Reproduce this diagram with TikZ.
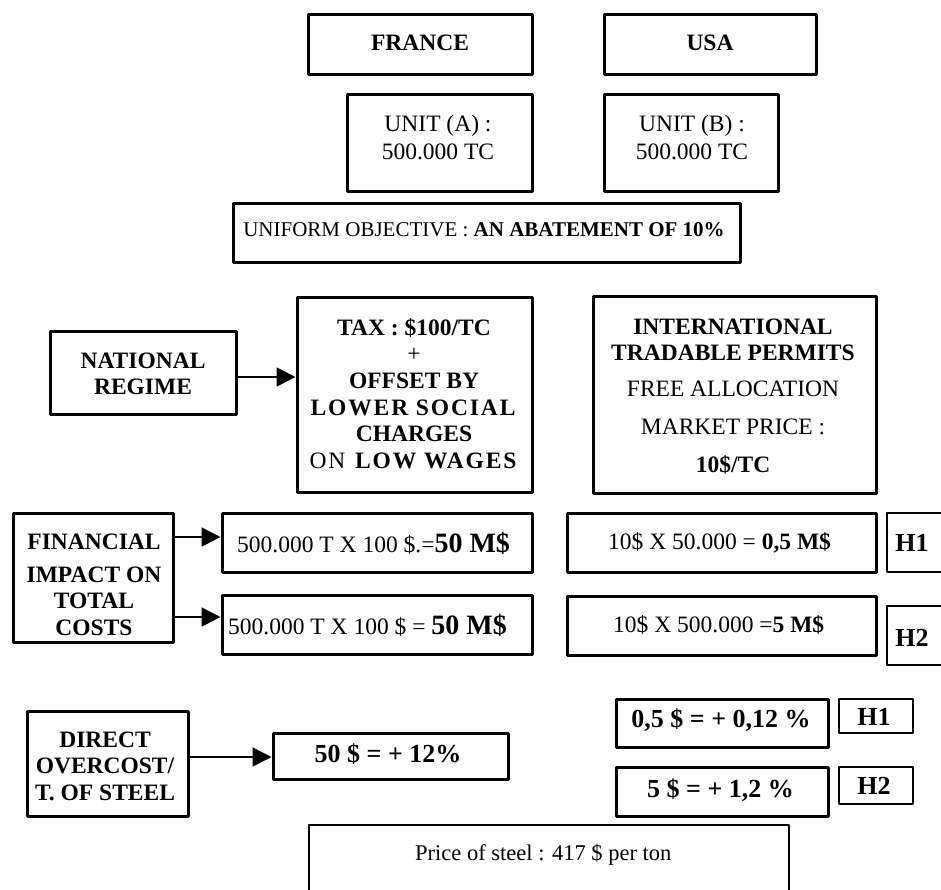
\documentclass[tikz,border=0pt]{standalone}
\usepackage{fontspec}
\setmainfont{Liberation Serif}
\usetikzlibrary{arrows.meta}
\begin{document}
\begin{tikzpicture}[x=1pt,y=-1pt,
  bxk/.style={draw, line width=3pt, line join=round, inner sep=0pt},
  bxn/.style={draw, line width=1.6pt, line join=round, inner sep=0pt},
  tn/.style={inner sep=0pt, align=center, font=\fontsize{23.5}{27}\selectfont},
  tb/.style={inner sep=0pt, align=center, font=\fontsize{23.5}{26.6}\selectfont\bfseries},
  tbig/.style={inner sep=0pt, align=center, font=\fontsize{26}{30}\selectfont\bfseries},
  arr/.style={line width=1.5pt, -{Triangle[length=19pt,width=19pt]}}
]
\clip (0,0) rectangle (941,889);
\fill[white] (0,0) rectangle (941,889);

% boxes
\node[bxk, minimum width=224, minimum height=60] (france) at (420,44) {};
\node[bxk, minimum width=212, minimum height=60] (usa) at (710,44) {};
\node[bxk, minimum width=185, minimum height=97] (unitA) at (439.5,142.5) {};
\node[bxk, minimum width=174, minimum height=97] (unitB) at (691,142.5) {};
\node[bxk, minimum width=507, minimum height=59] (obj) at (486.5,232.5) {};
\node[bxk, minimum width=186, minimum height=83] (nat) at (143,372.5) {};
\node[bxk, minimum width=235, minimum height=195] (tax) at (414.5,394.5) {};
\node[bxk, minimum width=283, minimum height=197] (itp) at (734.5,394.5) {};
\node[bxk, minimum width=160, minimum height=129] (fin) at (93,577.5) {};
\node[bxk, minimum width=310, minimum height=59] (b1) at (377,542.5) {};
\node[bxk, minimum width=310, minimum height=59] (b2) at (377,624.5) {};
\node[bxk, minimum width=309, minimum height=59] (b3) at (721.5,542.5) {};
\node[bxk, minimum width=309, minimum height=59] (b4) at (721.5,625.5) {};
\node[bxn, minimum width=73, minimum height=59] (h1a) at (923.5,542.5) {};
\node[bxn, minimum width=73, minimum height=59] (h2a) at (923.5,635.5) {};
\node[bxk, minimum width=161, minimum height=105] (dir) at (107.5,763.5) {};
\node[bxk, minimum width=235, minimum height=46] (tw) at (390.5,756) {};
\node[bxk, minimum width=212, minimum height=48] (p1) at (722,723) {};
\node[bxn, minimum width=74, minimum height=34] (h1b) at (876,716) {};
\node[bxk, minimum width=212, minimum height=49] (p2) at (722,791.5) {};
\node[bxn, minimum width=74, minimum height=37] (h2b) at (876,785.5) {};
\node[bxn, minimum width=480, minimum height=95] (price) at (549,872.5) {};

% texts
\node[tb] (tfrance) at (420,43) {FRANCE};
\node[tb] (tusa) at (710,43) {USA};
\node[tn, font=\fontsize{23.5}{28}\selectfont] (tunitA) at (438,138) {UNIT (A) :\\500.000 TC};
\node[tn, font=\fontsize{23.5}{28}\selectfont] (tunitB) at (692,138) {UNIT (B) :\\500.000 TC};
\node[tn, font=\fontsize{21}{25}\selectfont] (tobj) at (484,230) {UNIFORM OBJECTIVE : \textbf{AN ABATEMENT OF 10\%}};
\node[tb, font=\fontsize{23.5}{26}\selectfont\bfseries] (tnat) at (143,374) {NATIONAL\\REGIME};
\node[tn, font=\fontsize{23.5}{26.6}\selectfont] (ttax) at (414,393.5) {\textbf{TAX : \$100/TC}\\+\\\textbf{OFFSET BY}\\{\addfontfeatures{LetterSpace=8}\textbf{LOWER SOCIAL}}\\\textbf{CHARGES}\\{\addfontfeatures{LetterSpace=8}ON \textbf{LOW WAGES}}};
\node[tn, font=\fontsize{23.5}{26.5}\selectfont] (titp) at (733,396.5) {\textbf{INTERNATIONAL}\\\textbf{TRADABLE PERMITS}\\[9pt]FREE ALLOCATION\\[12pt]MARKET PRICE :\\[11pt]\textbf{10\$/TC}};
\node[tb] (tfin) at (94,585) {FINANCIAL\\[6pt]IMPACT ON\\TOTAL\\COSTS};
\node[tn, anchor=west] (tb1) at (237,543) {500.000 T X 100 \$.={\fontsize{28}{30}\selectfont\bfseries 50 M\$}};
\node[tn, anchor=west] (tb2) at (228,625) {500.000 T X 100 \$ = {\fontsize{28}{30}\selectfont\bfseries 50 M\$}};
\node[tn, anchor=west] (tb3) at (608,543) {10\$ X 50.000 = \textbf{0,5 M\$}};
\node[tn, anchor=west] (tb4) at (613,625) {10\$ X 500.000 =\textbf{5 M\$}};
\node[tbig] (th1a) at (912,543) {H1};
\node[tbig] (th2a) at (912,638) {H2};
\node[tb] (tdir) at (105,766) {DIRECT\\OVERCOST/\\T. OF STEEL};
\node[tbig] (ttw) at (388,754) {50 \$ = + 12\%};
\node[tbig] (tp1) at (721,720) {0,5 \$ = + 0,12 \%};
\node[tbig] (tp2) at (720.5,790) {5 \$ = + 1,2 \%};
\node[tbig] (th1b) at (874,717) {H1};
\node[tbig] (th2b) at (874,786) {H2};
\node[tn, anchor=west, font=\fontsize{22.5}{26}\selectfont] (tprice) at (415,855) {Price of steel : 417 \$ per ton};

% connectors
\coordinate (na) at ([yshift=-4.5pt]nat.east);
\draw[arr] (na) -- (na -| tax.west);
\coordinate (fa) at ([yshift=40.5pt]fin.east);
\draw[arr] (fa) -- (fa -| b1.west);
\coordinate (fb) at ([yshift=-39.5pt]fin.east);
\draw[arr] (fb) -- (fb -| b2.west);
\coordinate (da) at ([yshift=6.5pt]dir.east);
\draw[arr] (da) -- (da -| tw.west);
\end{tikzpicture}
\end{document}
